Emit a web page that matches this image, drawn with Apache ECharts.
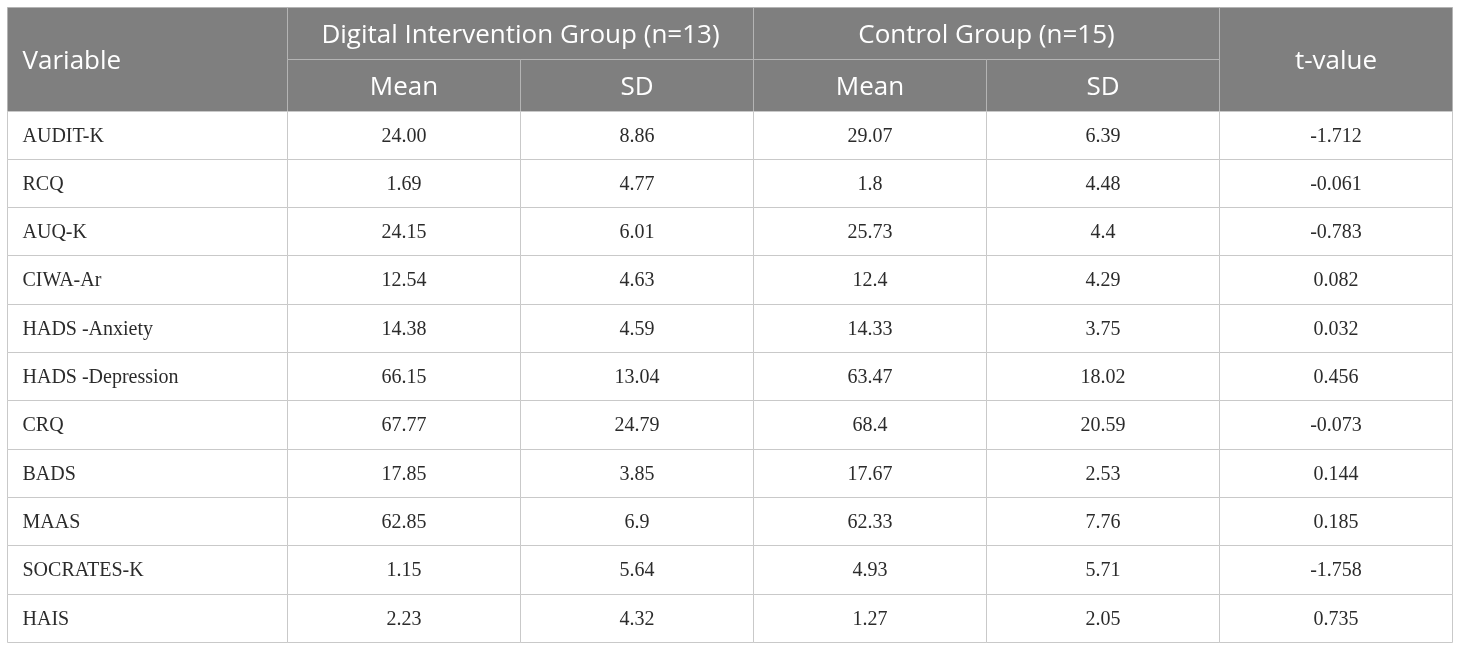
<!DOCTYPE html>
<html><head><meta charset="utf-8">
<script src="https://cdn.jsdelivr.net/npm/echarts@6/dist/echarts.min.js"></script>
<style>html,body{margin:0;padding:0;background:#fff}#c{width:1460px;height:650px}</style>
</head><body><div id="c"></div>
<script>
// ---- data ----
const variableHeader = 'Variable';
const groupHeaders = ['Digital Intervention Group (n=13)', 'Control Group (n=15)'];
const subHeaders = ['Mean', 'SD', 'Mean', 'SD'];
const tHeader = 't-value';
const variables = ['AUDIT-K', 'RCQ', 'AUQ-K', 'CIWA-Ar', 'HADS -Anxiety', 'HADS -Depression', 'CRQ', 'BADS', 'MAAS', 'SOCRATES-K', 'HAIS'];
const interventionMean = ['24.00', '1.69', '24.15', '12.54', '14.38', '66.15', '67.77', '17.85', '62.85', '1.15', '2.23'];
const interventionSD = ['8.86', '4.77', '6.01', '4.63', '4.59', '13.04', '24.79', '3.85', '6.9', '5.64', '4.32'];
const controlMean = ['29.07', '1.8', '25.73', '12.4', '14.33', '63.47', '68.4', '17.67', '62.33', '4.93', '1.27'];
const controlSD = ['6.39', '4.48', '4.4', '4.29', '3.75', '18.02', '20.59', '2.53', '7.76', '5.71', '2.05'];
const tValues = ['-1.712', '-0.061', '-0.783', '0.082', '0.032', '0.456', '-0.073', '0.144', '0.185', '-1.758', '0.735'];

// ---- layout ----
const colWidths = [280, 233, 233, 233, 233, 233];
const headerRowHeights = [52, 51.5];
const bodyRowHeight = 48.3;

const colEdges = [0];
colWidths.forEach(w => colEdges.push(colEdges[colEdges.length - 1] + w));
const rowEdges = [0];
headerRowHeights.forEach(h => rowEdges.push(rowEdges[rowEdges.length - 1] + h));
variables.forEach(() => rowEdges.push(rowEdges[rowEdges.length - 1] + bodyRowHeight));

const cells = [];
cells.push({c0: 0, c1: 0, r0: 0, r1: 1, text: variableHeader, header: true, align: 'left'});
cells.push({c0: 1, c1: 2, r0: 0, r1: 0, text: groupHeaders[0], header: true, align: 'center'});
cells.push({c0: 3, c1: 4, r0: 0, r1: 0, text: groupHeaders[1], header: true, align: 'center'});
cells.push({c0: 5, c1: 5, r0: 0, r1: 1, text: tHeader, header: true, align: 'center'});
subHeaders.forEach((s, i) => cells.push({c0: i + 1, c1: i + 1, r0: 1, r1: 1, text: s, header: true, align: 'center'}));
const bodyCols = [variables, interventionMean, interventionSD, controlMean, controlSD, tValues];
variables.forEach((v, r) => {
  bodyCols.forEach((col, c) => {
    cells.push({c0: c, c1: c, r0: r + 2, r1: r + 2, text: col[r], header: false, align: c === 0 ? 'left' : 'center'});
  });
});

const seriesData = cells.map(c => [colEdges[c.c0], colEdges[c.c1 + 1], rowEdges[c.r0], rowEdges[c.r1 + 1]]);

function renderItem(params, api) {
  const cell = cells[params.dataIndex];
  const p0 = api.coord([api.value(0), api.value(2)]);
  const p1 = api.coord([api.value(1), api.value(3)]);
  const x = Math.round(Math.min(p0[0], p1[0])) + 0.5;
  const y = Math.round(Math.min(p0[1], p1[1])) + 0.5;
  const x2 = Math.round(Math.max(p0[0], p1[0])) + 0.5;
  const y2 = Math.round(Math.max(p0[1], p1[1])) + 0.5;
  const w = x2 - x, h = y2 - y;
  const isH = cell.header;
  return {
    type: 'group',
    children: [
      {type: 'rect', shape: {x: x, y: y, width: w, height: h},
        style: {fill: isH ? '#7f7f7f' : '#ffffff', stroke: isH ? '#b4b4b4' : '#c9c9c9', lineWidth: 1}},
      {type: 'text', style: {
        text: cell.text,
        x: cell.align === 'left' ? x + 15 : x + w / 2,
        y: y + h / 2 + (isH ? 2 : 1),
        align: cell.align, verticalAlign: 'middle',
        fill: isH ? '#ffffff' : '#2b2b2b',
        fontFamily: isH ? 'Open Sans' : 'Liberation Serif',
        fontSize: isH ? 26 : 20
      }}
    ]
  };
}

const chart = echarts.init(document.getElementById('c'), null, {renderer: 'canvas'});
chart.setOption({
  animation: false,
  grid: {left: 7, right: 8, top: 7, bottom: 8},
  xAxis: {type: 'value', min: 0, max: colEdges[colEdges.length - 1], show: false},
  yAxis: {type: 'value', min: 0, max: rowEdges[rowEdges.length - 1], inverse: true, show: false},
  series: [{
    type: 'custom',
    renderItem: renderItem,
    data: seriesData,
    encode: {x: [0, 1], y: [2, 3]},
    silent: true
  }]
});
</script></body></html>
